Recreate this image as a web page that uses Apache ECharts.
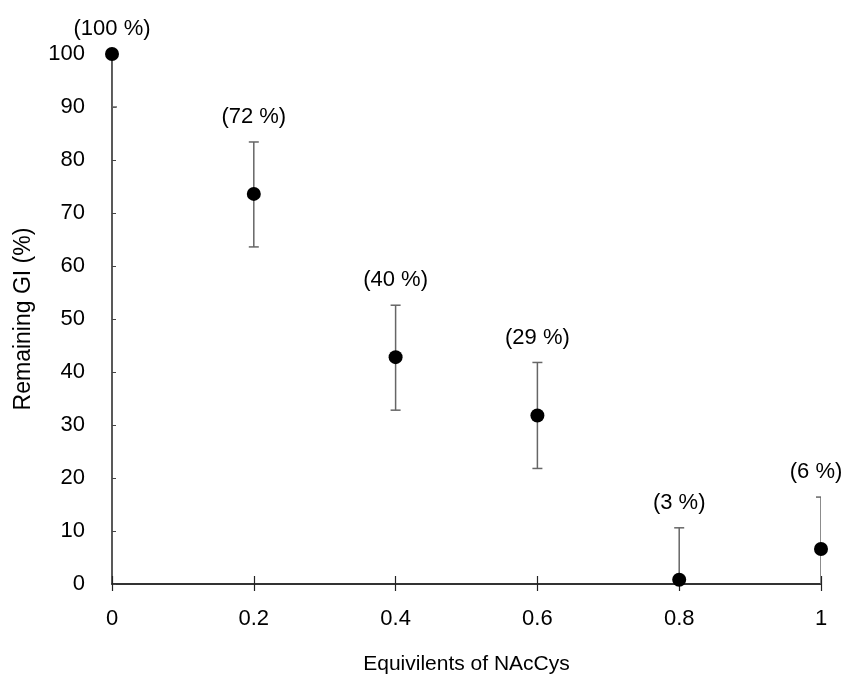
<!DOCTYPE html>
<html><head><meta charset="utf-8">
<script src="https://cdn.jsdelivr.net/npm/echarts@6/dist/echarts.min.js"></script>
<style>html,body{margin:0;padding:0;background:#fff}#c{width:857px;height:684px}</style>
</head><body><div id="c"></div>
<script>
const xs = [0, 0.2, 0.4, 0.6, 0.8, 1];
const means = [100, 73.6, 42.8, 31.8, 0.8, 6.6];
const highs = [100, 83.4, 52.6, 41.8, 10.6, 16.4];
const lows = [90, 63.6, 32.8, 21.8, -9, -3.2];
const pointLabels = ['(100 %)', '(72 %)', '(40 %)', '(29 %)', '(3 %)', '(6 %)'];
const xTicks = ['0', '0.2', '0.4', '0.6', '0.8', '1'];

const FONT = '"Liberation Sans", Arial, Helvetica, sans-serif';
const chart = echarts.init(document.getElementById('c'));

const errData = xs.map((x, i) => [x, lows[i], highs[i]]);
const lblData = xs.map((x, i) => [x, highs[i], i]);

chart.setOption({
  animation: false,
  grid: {left: 112, right: 36, top: 54, bottom: 100},
  xAxis: [{
    type: 'value', min: 0, max: 1, interval: 0.2,
    name: 'Equivilents of NAcCys', nameLocation: 'middle', nameGap: 70,
    nameTextStyle: {fontFamily: FONT, fontSize: 21, color: '#000'},
    axisLine: {lineStyle: {color: '#333', width: 2}},
    axisTick: {show: true, length: 7, lineStyle: {color: '#222', width: 1.2}},
    axisLabel: {fontFamily: FONT, fontSize: 22, color: '#000', margin: 24,
      formatter: v => { const i = xs.findIndex(x => Math.abs(x - v) < 1e-6); return i >= 0 ? xTicks[i] : ''; }},
    splitLine: {show: false}
  }, {
    type: 'value', min: 0, max: 1, interval: 0.2, position: 'bottom',
    axisLine: {show: false},
    axisTick: {show: true, inside: true, length: 8, lineStyle: {color: '#222', width: 1.2}},
    axisLabel: {show: false}, splitLine: {show: false}
  }],
  yAxis: {
    type: 'value', min: 0, max: 100, interval: 10,
    name: 'Remaining GI (%)', nameLocation: 'middle', nameGap: 77,
    nameTextStyle: {fontFamily: FONT, fontSize: 23, color: '#000'},
    axisLine: {show: true, lineStyle: {color: '#222', width: 1.5}},
    axisTick: {show: true, inside: true, length: 4, lineStyle: {color: '#444', width: 1}},
    axisLabel: {fontFamily: FONT, fontSize: 22, color: '#000', margin: 27},
    splitLine: {show: false}
  },
  series: [{
    type: 'custom', clip: true, z: 3,
    data: errData,
    renderItem: (params, api) => {
      const x = api.value(0);
      const lo = api.coord([x, api.value(1)]);
      const hi = api.coord([x, api.value(2)]);
      const w = 5;
      const style = {stroke: '#666', lineWidth: 1.5};
      return {type: 'group', children: [
        {type: 'line', shape: {x1: lo[0], y1: lo[1], x2: hi[0], y2: hi[1]}, style},
        {type: 'line', shape: {x1: hi[0] - w, y1: hi[1], x2: hi[0] + w, y2: hi[1]}, style},
        {type: 'line', shape: {x1: lo[0] - w, y1: lo[1], x2: lo[0] + w, y2: lo[1]}, style}
      ]};
    }
  }, {
    type: 'scatter', z: 5, symbol: 'circle', symbolSize: 14,
    itemStyle: {color: '#000', opacity: 1},
    data: xs.map((x, i) => [x, means[i]])
  }, {
    type: 'custom', clip: false, z: 6,
    data: lblData,
    renderItem: (params, api) => {
      const x = api.value(0);
      const i = api.value(2);
      const p = api.coord([x, api.value(1)]);
      const dx = (i === xs.length - 1) ? -5 : 0;
      return {type: 'text', x: p[0] + dx, y: p[1] - 25,
        style: {text: pointLabels[i], fontFamily: FONT, fontSize: 22, fill: '#000',
          textAlign: 'center', textVerticalAlign: 'middle'}};
    }
  }]
});
</script></body></html>
